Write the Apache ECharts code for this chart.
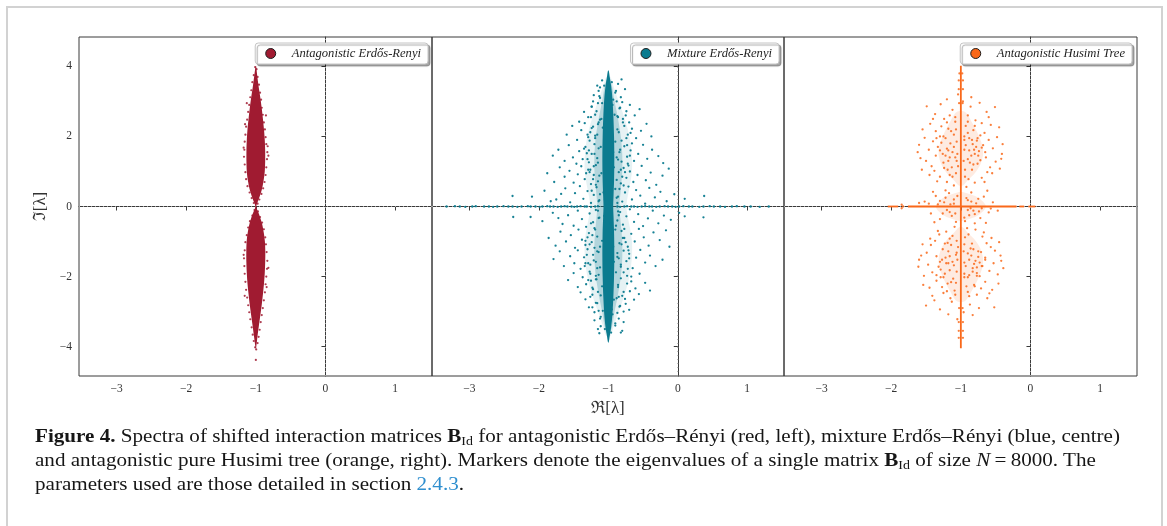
<!DOCTYPE html>
<html>
<head>
<meta charset="utf-8">
<script src="https://cdn.jsdelivr.net/npm/echarts@6/dist/echarts.min.js"></script>
<style>
  html, body { margin: 0; padding: 0; background: #fff; overflow: hidden; }
  #frame { position: absolute; left: 6px; top: 6px; width: 1157px; height: 540px;
           border: 2px solid #d2d2d2; border-bottom: none; box-sizing: border-box; }
  #chart { position: absolute; left: 0; top: 0; width: 1167px; height: 526px; }
  #caption { position: absolute; left: 35px; top: 425px; font-family: 'Liberation Serif', 'DejaVu Serif', serif;
             font-size: 18.5px; line-height: 22px; color: #161616; white-space: nowrap;
             transform-origin: 0 0; display: inline-block; }
  #caption .sub { font-size: 0.66em; position: relative; top: 0.28em; font-weight: normal; }
  #caption .ref { color: #2f8fcf; }
</style>
</head>
<body>
<div id="frame"></div>
<div id="chart"></div>
<div id="caption">
  <b>Figure 4.</b> Spectra of shifted interaction matrices <b>B</b><span class="sub">Id</span> for antagonistic Erdős–Rényi (red, left), mixture Erdős–Rényi (blue, centre)<br>
  and antagonistic pure Husimi tree (orange, right). Markers denote the eigenvalues of a single matrix <b>B</b><span class="sub">Id</span> of size <i>N</i>&#8201;=&#8201;8000. The<br>
  parameters used are those detailed in section <span class="ref">2.4.3</span>.
</div>
<script>
// ---- axis ticks and panel names ----
const xTicks = [-3, -2, -1, 0, 1];
const yTicks = [-4, -2, 0, 2, 4];
const panelNames = ['Antagonistic Erdős-Renyi', 'Mixture Erdős-Renyi', 'Antagonistic Husimi Tree'];

// ---- red panel: dense lens of eigenvalues, rows are [Im, Re left edge, Re right edge] ----
const redBand = [
  [4.0,-1.004,-0.996],[3.7,-1.025,-0.978],[3.4,-1.045,-0.958],[3.1,-1.068,-0.935],[2.8,-1.088,-0.915],
  [2.5,-1.105,-0.898],[2.2,-1.12,-0.883],[1.9,-1.13,-0.872],[1.6,-1.135,-0.866],[1.3,-1.135,-0.866],
  [1.0,-1.13,-0.872],[0.75,-1.115,-0.888],[0.5,-1.09,-0.912],[0.3,-1.06,-0.943],[0.15,-1.032,-0.97],
  [0.0,-1.008,-0.993],[-0.15,-1.033,-0.968],[-0.3,-1.062,-0.94],[-0.5,-1.092,-0.91],[-0.75,-1.117,-0.886],
  [-1.0,-1.132,-0.87],[-1.3,-1.137,-0.864],[-1.6,-1.136,-0.866],[-1.9,-1.13,-0.872],[-2.2,-1.12,-0.883],
  [-2.5,-1.105,-0.898],[-2.8,-1.088,-0.915],[-3.1,-1.068,-0.935],[-3.4,-1.047,-0.956],[-3.7,-1.027,-0.976],
  [-4.05,-1.003,-0.997]
];
// single eigenvalues around the lens edge, [Re, Im]
const redPts = [
  [-1.01,3.98],[-0.99,3.92],[-1.03,3.75],[-0.975,3.7],[-1.05,3.55],[-0.955,3.48],[-1.065,3.32],[-0.94,3.25],
  [-1.08,3.12],[-0.925,3.05],[-1.095,2.9],[-0.915,2.82],[-1.11,2.7],[-0.9,2.62],[-1.125,2.48],[-0.885,2.4],
  [-1.14,2.28],[-0.87,2.2],[-1.15,2.05],[-0.86,1.98],[-1.16,1.85],[-0.85,1.78],[-1.165,1.62],[-0.835,1.55],
  [-1.17,1.42],[-0.84,1.35],[-1.16,1.2],[-0.85,1.12],[-1.15,0.98],[-0.86,0.9],[-1.14,0.78],[-0.875,0.7],
  [-1.12,0.58],[-0.895,0.52],[-1.09,0.4],[-0.92,0.36],[-1.06,0.24],[-0.95,0.2],[-1.03,0.1],[-0.975,0.08],
  [-0.83,1.72],[-1.175,1.68],[-0.82,1.45],[-1.155,2.35],[-0.855,2.6],[-1.13,2.95],
  [-1.02,-0.1],[-0.97,-0.14],[-1.05,-0.26],[-0.94,-0.3],[-1.085,-0.42],[-0.91,-0.46],[-1.11,-0.6],[-0.885,-0.65],
  [-1.13,-0.82],[-0.865,-0.88],[-1.15,-1.02],[-0.855,-1.08],[-1.16,-1.25],[-0.845,-1.3],[-1.17,-1.48],[-0.835,-1.55],
  [-1.165,-1.7],[-0.84,-1.78],[-1.16,-1.92],[-0.85,-2.0],[-1.15,-2.15],[-0.86,-2.22],[-1.14,-2.38],[-0.87,-2.45],
  [-1.125,-2.6],[-0.885,-2.68],[-1.11,-2.82],[-0.9,-2.9],[-1.095,-3.02],[-0.915,-3.1],[-1.08,-3.22],[-0.93,-3.3],
  [-1.06,-3.45],[-0.945,-3.52],[-1.045,-3.66],[-0.96,-3.72],[-1.03,-3.84],[-0.975,-3.9],[-1.01,-4.02],[-0.995,-4.08],
  [-1.0,-4.38],[-0.82,-1.75],[-1.175,-1.38],[-0.845,-2.3],[-1.16,-2.55]
];

// ---- teal panel: dense central column and its halo ----
const tealCore = [
  [3.88,-1.005,-0.995],[3.7,-1.02,-0.98],[3.45,-1.04,-0.96],[3.1,-1.058,-0.942],[2.6,-1.072,-0.928],
  [2.0,-1.082,-0.918],[1.4,-1.086,-0.914],[0.8,-1.083,-0.917],[0.3,-1.075,-0.925],[0.0,-1.07,-0.93],
  [-0.3,-1.075,-0.925],[-0.8,-1.083,-0.917],[-1.4,-1.086,-0.914],[-2.0,-1.082,-0.918],[-2.6,-1.072,-0.928],
  [-3.1,-1.058,-0.942],[-3.45,-1.04,-0.96],[-3.7,-1.02,-0.98],[-3.88,-1.005,-0.995]
];
const tealInner = [
  [3.6,-1.03,-0.97],[3.0,-1.09,-0.91],[2.5,-1.14,-0.86],[2.0,-1.18,-0.82],[1.5,-1.2,-0.8],[1.0,-1.2,-0.8],
  [0.5,-1.18,-0.82],[0.0,-1.16,-0.84],[-0.5,-1.18,-0.82],[-1.0,-1.2,-0.8],[-1.5,-1.2,-0.8],[-2.0,-1.18,-0.82],
  [-2.5,-1.14,-0.86],[-3.0,-1.09,-0.91],[-3.6,-1.03,-0.97]
];
const tealOuter = [
  [3.7,-1.03,-0.97],[3.4,-1.08,-0.92],[3.0,-1.15,-0.85],[2.6,-1.22,-0.78],[2.2,-1.28,-0.72],[1.8,-1.32,-0.68],
  [1.4,-1.34,-0.66],[1.0,-1.34,-0.66],[0.6,-1.31,-0.69],[0.3,-1.28,-0.72],[0.0,-1.26,-0.74],[-0.3,-1.28,-0.72],
  [-0.6,-1.31,-0.69],[-1.0,-1.34,-0.66],[-1.4,-1.34,-0.66],[-1.8,-1.32,-0.68],[-2.2,-1.28,-0.72],[-2.6,-1.22,-0.78],
  [-3.0,-1.15,-0.85],[-3.4,-1.08,-0.92],[-3.7,-1.03,-0.97]
];
const tealPts = [
  [-2.38,0.3],[0.38,0.3],[-2.1,0.28],[-1.92,0.45],[-1.75,0.2],[-1.62,0.52],[-1.55,0.12],[-1.48,0.38],[-1.41,0.58],
  [-1.36,0.22],[-1.3,0.44],[-1.25,0.1],[-1.21,0.33],[-1.17,0.55],[-1.13,0.18],[-0.88,0.25],[-0.84,0.5],[-0.8,0.14],
  [-0.76,0.4],[-0.71,0.57],[-0.66,0.2],[-0.6,0.47],[-0.54,0.31],[-0.47,0.08],[-0.41,0.53],[-0.33,0.26],[-0.25,0.42],
  [-0.16,0.15],[-0.05,0.35],[0.1,0.22],[-1.68,0.36],[-1.83,0.15],[-0.95,0.42],[-1.05,0.2],
  [-1.88,0.95],[-1.78,0.7],[-1.7,1.12],[-1.63,0.85],[-1.56,1.02],[-1.5,0.68],[-1.44,0.92],[-1.39,1.15],[-1.34,0.78],
  [-1.29,1.05],[-1.25,0.64],[-1.21,0.9],[-1.18,1.18],[-1.15,0.72],[-0.85,0.98],[-0.82,0.66],[-0.78,1.1],[-0.74,0.82],
  [-0.69,1.0],[-0.64,0.7],[-0.58,0.9],[-0.52,1.16],[-0.46,0.75],[-0.39,0.97],[-0.31,0.62],[-0.22,0.88],[-0.13,1.08],
  [-1.27,0.98],[-1.13,0.88],[-0.88,0.76],[-0.71,1.17],
  [-1.8,1.45],[-1.72,1.62],[-1.63,1.3],[-1.57,1.75],[-1.51,1.4],[-1.46,1.22],[-1.42,1.58],[-1.37,1.35],[-1.33,1.7],
  [-1.28,1.26],[-1.24,1.5],[-1.2,1.78],[-1.16,1.38],[-0.84,1.55],[-0.81,1.28],[-0.77,1.72],[-0.73,1.42],[-0.68,1.6],
  [-0.63,1.3],[-0.57,1.5],[-0.5,1.76],[-0.44,1.36],[-0.37,1.62],[-0.28,1.44],[-0.21,1.24],[-1.31,1.52],[-1.14,1.66],
  [-0.86,1.34],[-0.66,1.8],
  [-1.6,2.05],[-1.52,2.3],[-1.45,1.9],[-1.39,2.18],[-1.34,2.38],[-1.29,1.98],[-1.24,2.24],[-1.19,2.02],[-1.15,2.35],
  [-0.85,2.12],[-0.81,1.88],[-0.77,2.3],[-0.72,2.05],[-0.66,2.22],[-0.6,1.95],[-0.53,2.16],[-0.45,2.36],[-0.38,2.0],
  [-1.42,2.42],[-1.26,2.12],[-0.7,2.4],
  [-1.35,2.7],[-1.29,2.55],[-1.24,2.85],[-1.19,2.62],[-1.15,2.95],[-1.12,2.48],[-0.87,2.58],[-0.83,2.82],[-0.79,2.5],
  [-0.74,2.72],[-0.69,2.9],[-0.62,2.6],[-0.55,2.78],[-1.22,3.0],[-0.8,2.98],
  [-1.21,3.18],[-1.16,3.45],[-1.12,3.1],[-1.09,3.6],[-0.9,3.25],[-0.86,3.5],[-0.82,3.12],[-0.76,3.35],[-0.81,3.63],[-1.14,3.3],
  [-2.37,-0.3],[0.37,-0.31],[-2.12,-0.3],[0.1,-0.28],[-1.95,-0.42],[-1.8,-0.18],[-1.66,-0.5],[-1.58,-0.25],[-1.5,-0.55],
  [-1.44,-0.12],[-1.38,-0.36],[-1.32,-0.58],[-1.27,-0.2],[-1.22,-0.45],[-1.18,-0.1],[-1.14,-0.33],[-0.87,-0.4],[-0.83,-0.16],
  [-0.79,-0.52],[-0.74,-0.28],[-0.69,-0.08],[-0.63,-0.44],[-0.57,-0.22],[-0.5,-0.56],[-0.43,-0.34],[-0.36,-0.12],[-0.28,-0.48],
  [-0.2,-0.26],[-0.1,-0.38],[0.02,-0.18],[-1.72,-0.33],[-0.97,-0.5],[-1.06,-0.27],
  [-1.86,-0.9],[-1.76,-1.12],[-1.69,-0.72],[-1.61,-1.0],[-1.54,-0.82],[-1.48,-1.18],[-1.43,-0.66],[-1.38,-0.95],[-1.33,-1.1],
  [-1.28,-0.76],[-1.24,-1.02],[-1.2,-0.62],[-1.16,-0.86],[-0.84,-1.05],[-0.81,-0.7],[-0.77,-0.9],[-0.72,-1.15],[-0.67,-0.78],
  [-0.62,-1.0],[-0.56,-0.64],[-0.49,-0.88],[-0.42,-1.12],[-0.35,-0.74],[-0.26,-0.96],[-0.17,-0.68],[-0.12,-1.15],[-1.3,-0.88],
  [-1.12,-1.15],[-0.9,-0.66],
  [-1.79,-1.5],[-1.7,-1.28],[-1.64,-1.7],[-1.55,-1.42],[-1.49,-1.62],[-1.44,-1.25],[-1.4,-1.78],[-1.35,-1.45],[-1.3,-1.22],
  [-1.26,-1.66],[-1.22,-1.38],[-1.18,-1.58],[-1.14,-1.3],[-0.85,-1.48],[-0.82,-1.72],[-0.78,-1.26],[-0.74,-1.56],[-0.7,-1.35],
  [-0.65,-1.76],[-0.6,-1.46],[-0.54,-1.24],[-0.47,-1.6],[-0.4,-1.4],[-0.32,-1.7],[-0.22,-1.52],[-1.33,-1.62],[-1.16,-1.76],
  [-0.87,-1.33],
  [-1.58,-2.1],[-1.5,-1.9],[-1.44,-2.3],[-1.37,-2.02],[-1.32,-2.22],[-1.27,-1.86],[-1.22,-2.36],[-1.18,-2.08],[-1.14,-1.95],
  [-0.86,-2.3],[-0.82,-2.05],[-0.78,-1.88],[-0.73,-2.2],[-0.67,-2.0],[-0.61,-2.34],[-0.55,-1.92],[-0.47,-2.18],[-0.4,-2.4],
  [-1.4,-2.45],[-1.25,-2.12],[-0.69,-2.42],
  [-1.33,-2.65],[-1.28,-2.88],[-1.23,-2.52],[-1.18,-2.75],[-1.14,-2.98],[-0.88,-2.62],[-0.84,-2.86],[-0.8,-2.55],[-0.75,-2.78],
  [-0.7,-2.95],[-0.63,-2.66],[-0.56,-2.5],[-1.2,-3.02],[-0.78,-3.0],
  [-1.2,-3.25],[-1.15,-3.5],[-1.11,-3.15],[-0.9,-3.4],[-0.85,-3.2],[-0.8,-3.55],[-0.78,-3.3],[-1.13,-3.62],[-0.82,-3.6],
  // close to the column
  [-1.12,0.35],[-0.9,0.5],[-1.18,0.62],[-0.86,0.28],[-1.22,0.78],[-0.8,0.85],[-1.1,0.95],[-0.92,1.12],[-1.26,1.05],
  [-0.76,0.98],[-1.15,1.25],[-0.88,1.4],[-1.3,1.35],[-0.72,1.22],[-1.2,1.5],[-0.83,1.62],[-1.11,1.7],[-0.9,1.85],
  [-1.27,1.88],[-0.74,1.95],[-1.16,2.05],[-0.87,2.2],[-1.22,2.28],[-0.79,2.4],[-1.1,2.5],[-0.91,2.62],[-1.17,2.72],
  [-0.84,2.8],[-1.09,2.95],[-0.93,3.05],[-1.13,3.15],[-0.89,3.3],[-1.06,3.45],[-0.95,3.55],[-1.24,0.45],[-0.78,0.6],
  [-1.32,0.95],[-0.69,1.45],[-1.35,1.65],[-0.68,2.1],[-1.3,2.05],[-0.75,2.6],[-1.25,2.55],[-1.14,0.15],[-0.87,0.1],
  [-1.19,1.95],[-0.82,1.05],[-1.14,2.4],[-0.86,2.55],[-1.21,1.15],[-0.95,0.75],[-1.07,0.4],[-0.93,1.55],[-1.08,2.25],
  [-0.94,2.9],[-1.12,3.4],[-0.88,3.0],[-1.28,1.6],[-0.73,1.75],[-1.24,2.85],
  [-1.13,-0.32],[-0.89,-0.55],[-1.19,-0.66],[-0.85,-0.25],[-1.23,-0.82],[-0.79,-0.9],[-1.09,-0.98],[-0.93,-1.15],[-1.27,-1.08],
  [-0.75,-1.02],[-1.16,-1.28],[-0.87,-1.44],[-1.31,-1.38],[-0.71,-1.25],[-1.21,-1.54],[-0.82,-1.66],[-1.12,-1.74],[-0.89,-1.88],
  [-1.26,-1.92],[-0.73,-1.98],[-1.17,-2.08],[-0.86,-2.24],[-1.23,-2.32],[-0.78,-2.44],[-1.11,-2.54],[-0.92,-2.66],[-1.16,-2.76],
  [-0.83,-2.84],[-1.08,-2.98],[-0.94,-3.08],[-1.12,-3.2],[-0.9,-3.34],[-1.05,-3.5],[-0.96,-3.6],[-1.25,-0.48],[-0.77,-0.64],
  [-1.33,-0.98],[-0.7,-1.48],[-1.34,-1.7],[-0.67,-2.14],[-1.29,-2.1],[-0.76,-2.64],[-1.26,-2.58],[-1.15,-0.12],[-0.86,-0.14],
  [-1.18,-1.98],[-0.81,-1.08],[-1.15,-2.44],[-0.85,-2.58],[-1.2,-1.18],[-0.94,-0.78],[-1.06,-0.44],[-0.92,-1.58],[-1.09,-2.28],
  [-0.95,-2.94],[-1.11,-3.42],[-0.87,-3.04],[-1.29,-1.62],[-0.72,-1.78],[-1.23,-2.88]
];
// real eigenvalues of the mixture matrix, lying on the Re axis
const tealRealPts = [
  [-3.33,0],[-3.21,0.01],[-3.14,0],[-3.06,-0.01],[-2.96,0],[-2.91,0.01],[-2.79,0],[-2.72,0],[-2.66,-0.01],[-2.6,0],
  [-2.51,0.01],[-2.44,0],[-2.38,0],[-2.31,-0.01],[-2.25,0],[-2.16,0.01],[-2.12,0],[-2.05,0],[-1.99,-0.01],[-1.95,0],
  [-1.88,0.01],[-1.84,0],[-1.79,0],[-1.73,-0.01],[-1.68,0],[-1.63,0.01],[-1.59,0],[-1.53,0],[-1.49,-0.01],[-1.45,0],
  [-1.4,0.01],[-1.34,0],[-1.31,0],[-1.25,-0.01],[-1.19,0],[-1.15,0.01],[-0.87,0],[-0.83,-0.01],[-0.77,0],[-0.73,0.01],
  [-0.67,0],[-0.63,0],[-0.58,-0.01],[-0.52,0],[-0.47,0.01],[-0.41,0],[-0.37,0],[-0.31,-0.01],[-0.26,0],[-0.19,0.01],
  [-0.14,0],[-0.08,0],[-0.03,-0.01],[0.02,0],[0.08,0.01],[0.16,0],[0.21,0],[0.31,-0.01],[0.37,0],[0.46,0.01],
  [0.52,0],[0.61,0],[0.68,-0.01],[0.78,0],[0.85,0.01],[0.96,0],[1.05,0],[1.18,-0.01],[1.31,0]
];

// ---- orange panel: two lobes, a central cross and the line of eigenvalues at Re = -1 ----
const orangeUpperCore = [[2.7,-1.06,-0.94],[2.4,-1.16,-0.84],[2.1,-1.24,-0.76],[1.8,-1.3,-0.7],[1.5,-1.32,-0.68],
  [1.2,-1.28,-0.72],[0.95,-1.2,-0.8],[0.75,-1.1,-0.9],[0.6,-1.03,-0.97]];
const orangeLowerCore = [[-0.6,-1.03,-0.97],[-0.75,-1.1,-0.9],[-0.95,-1.2,-0.8],[-1.2,-1.28,-0.72],[-1.5,-1.32,-0.68],
  [-1.8,-1.3,-0.7],[-2.1,-1.24,-0.76],[-2.4,-1.16,-0.84],[-2.7,-1.06,-0.94]];
const orangeMidCore = [[0.4,-1.05,-0.95],[0.25,-1.25,-0.75],[0.0,-1.36,-0.64],[-0.25,-1.25,-0.75],[-0.4,-1.05,-0.95]];
// continuous runs of eigenvalues, [Re1, Im1, Re2, Im2]
const orangeRuns = [[-1,4.02,-1,-4.05],[-2.05,0,-1.9,0],[-1.76,0,-0.2,0],[-0.16,0,-0.09,0],[-0.03,0,0.07,0]];
const orangePts = [
  [-1.49,2.86],[-0.51,2.84],[-1.37,2.64],[-0.63,2.7],[-1.29,2.92],[-0.73,2.96],[-1.2,3.06],[-0.85,3.12],[-1.12,2.76],
  [-0.9,2.6],[-1.24,2.5],[-0.79,2.46],[-1.55,2.2],[-0.45,2.26],[-1.44,2.36],[-0.57,2.33],[-1.36,2.15],[-0.66,2.1],
  [-1.28,2.29],[-0.7,2.38],[-1.18,2.22],[-0.82,2.18],[-1.6,1.76],[-0.4,1.78],[-1.62,1.55],[-0.41,1.5],[-1.52,1.96],
  [-0.48,1.98],[-1.46,1.62],[-0.54,1.66],[-1.4,1.86],[-0.6,1.9],[-1.36,1.45],[-0.64,1.4],[-1.33,1.7],[-0.68,1.75],
  [-1.3,2.0],[-0.72,2.03],[-1.5,1.3],[-0.5,1.28],[-1.42,1.15],[-0.58,1.12],[-1.56,1.05],[-0.44,1.08],[-1.45,0.9],
  [-0.55,0.95],[-1.3,0.85],[-0.7,0.82],[-1.2,0.7],[-0.8,0.68],[-1.1,0.6],[-0.92,0.56],[-1.38,1.02],[-0.62,0.98],
  [-1.34,0.72],[-0.66,0.7],[-1.25,1.25],[-0.76,1.22],[-1.58,1.38],[-0.42,1.36],[-1.4,2.5],[-0.6,2.55],[-1.16,2.6],
  [-0.86,2.85],[-1.04,3.2],[-0.97,3.0],[-1.08,2.42],[-0.93,2.3],
  [-1.12,1.55],[-0.88,1.6],[-1.15,1.8],[-0.85,1.45],[-1.18,1.3],[-0.84,1.9],[-1.2,1.65],[-0.8,1.5],[-1.22,1.95],
  [-0.78,1.7],[-1.13,1.12],[-0.87,1.25],[-1.1,2.05],[-0.9,2.1],[-1.08,1.4],[-0.93,1.75],[-1.07,0.95],[-0.94,1.05],
  [-1.26,1.5],[-0.74,1.58],[-1.28,1.82],[-0.72,1.32],[-1.24,1.1],[-0.76,1.95],
  [-1.05,1.5],[-0.95,1.62],[-1.06,1.85],[-0.96,1.3],[-1.04,1.15],[-0.95,2.0],[-1.07,2.2],[-0.94,0.85],[-1.18,1.6],
  [-0.83,1.78],[-1.16,1.4],[-0.82,1.2],[-1.1,1.7],[-0.88,1.95],[-1.14,2.15],[-0.9,1.35],[-1.22,1.45],[-0.77,1.88],
  [-1.19,1.05],[-0.81,1.62],[-1.12,0.85],[-0.89,0.78],[-1.25,2.0],[-0.75,1.45],[-1.3,1.6],[-0.7,1.68],[-1.08,2.55],
  [-0.9,2.42],[-1.2,2.4],[-0.8,2.3],[-1.35,1.95],[-0.65,1.55],[-1.16,0.9],[-0.84,1.05],[-1.06,1.3],[-0.95,1.9],
  [-1.52,0.14],[-0.54,0.12],[-1.43,-0.2],[-0.6,-0.17],[-1.36,0.3],[-0.67,0.28],[-1.3,-0.36],[-0.72,-0.33],[-1.24,0.12],
  [-0.78,0.09],[-1.2,-0.1],[-0.82,-0.12],[-1.17,0.38],[-0.85,0.4],[-1.13,-0.27],[-0.88,-0.25],[-1.1,0.2],[-0.9,0.18],
  [-1.07,-0.44],[-0.94,-0.42],[-1.46,0.08],[-0.57,-0.06],[-1.33,0.06],[-0.7,-0.05],[-1.26,-0.2],[-0.75,0.22],[-1.15,0.06],
  [-0.86,-0.05],[-1.6,0.1],[-0.47,-0.12],[-1.4,0.42],[-0.62,0.45],[-1.38,-0.45],[-0.64,-0.47],[-1.22,0.46],[-0.8,-0.48],
  [-1.1,0.08],[-0.9,-0.1],[-1.16,-0.16],[-0.85,0.14],[-1.22,0.25],[-0.8,-0.22],[-1.05,0.3],[-0.95,-0.32],[-1.3,0.16],
  [-0.74,-0.14],[-1.08,-0.2],[-0.92,0.24],[-1.85,0.05],[-1.85,-0.05],[-1.83,0.0],
  [-1.5,-2.83],[-0.52,-2.88],[-1.38,-2.68],[-0.62,-2.62],[-1.3,-2.94],[-0.74,-2.9],[-1.18,-3.08],[-0.83,-3.1],[-1.13,-2.72],
  [-0.88,-2.56],[-1.25,-2.47],[-0.77,-2.52],[-1.54,-2.24],[-0.46,-2.2],[-1.45,-2.32],[-0.55,-2.38],[-1.35,-2.12],[-0.65,-2.15],
  [-1.27,-2.3],[-0.71,-2.34],[-1.19,-2.2],[-0.81,-2.24],[-1.61,-1.72],[-0.39,-1.76],[-1.6,-1.52],[-0.42,-1.55],[-1.53,-1.98],
  [-0.47,-1.94],[-1.47,-1.66],[-0.53,-1.62],[-1.41,-1.88],[-0.59,-1.84],[-1.35,-1.42],[-0.65,-1.46],[-1.32,-1.72],[-0.69,-1.7],
  [-1.29,-2.02],[-0.73,-1.99],[-1.49,-1.32],[-0.51,-1.26],[-1.43,-1.1],[-0.57,-1.16],[-1.55,-1.08],[-0.45,-1.02],[-1.44,-0.92],
  [-0.56,-0.9],[-1.31,-0.8],[-0.69,-0.86],[-1.21,-0.72],[-0.79,-0.66],[-1.09,-0.58],[-0.91,-0.62],[-1.37,-0.98],[-0.63,-1.05],
  [-1.33,-0.7],[-0.67,-0.74],[-1.26,-1.22],[-0.75,-1.28],[-1.57,-1.4],[-0.43,-1.4],[-1.41,-2.55],[-0.59,-2.48],[-1.15,-2.62],
  [-0.87,-2.8],[-1.05,-3.22],[-0.96,-3.02],[-1.09,-2.4],[-0.92,-2.28],
  [-1.12,-1.58],[-0.88,-1.52],[-1.16,-1.82],[-0.85,-1.4],[-1.18,-1.28],[-0.83,-1.86],[-1.21,-1.62],[-0.79,-1.55],[-1.23,-1.92],
  [-0.77,-1.74],[-1.14,-1.1],[-0.86,-1.2],[-1.11,-2.06],[-0.9,-2.02],[-1.07,-1.38],[-0.93,-1.7],[-1.06,-0.98],[-0.95,-1.08],
  [-1.27,-1.52],[-0.73,-1.6],[-1.29,-1.8],[-0.71,-1.3],[-1.23,-1.06],[-0.77,-1.98],
  [-1.05,-1.52],[-0.95,-1.6],[-1.06,-1.86],[-0.96,-1.28],[-1.04,-1.16],[-0.95,-2.02],[-1.07,-2.18],[-0.94,-0.88],[-1.18,-1.62],
  [-0.83,-1.76],[-1.16,-1.42],[-0.82,-1.22],[-1.1,-1.68],[-0.88,-1.96],[-1.14,-2.16],[-0.9,-1.34],[-1.22,-1.46],[-0.77,-1.9],
  [-1.19,-1.04],[-0.81,-1.64],[-1.12,-0.84],[-0.89,-0.8],[-1.25,-2.02],[-0.75,-1.44],[-1.3,-1.58],[-0.7,-1.7],[-1.08,-2.52],
  [-0.9,-2.44],[-1.2,-2.42],[-0.8,-2.28],[-1.35,-1.96],[-0.65,-1.52],[-1.16,-0.92],[-0.84,-1.06],[-1.06,-1.32],[-0.95,-1.92],
  [-1.03,3.6],[-0.97,3.6],[-1.03,3.35],[-0.97,3.35],[-1.025,2.95],[-0.975,2.95],[-1.02,3.8],[-0.98,3.8],
  [-1.03,-3.3],[-0.97,-3.3],[-1.03,-3.55],[-0.97,-3.55],[-1.025,-2.9],[-0.975,-2.9],[-1.03,-3.75],[-0.97,-3.75]
];

// ---- drawing ----
const xRange = [-3.54, 1.53];
const yRange = [-4.84, 4.84];
const colors = ['#a01b31', '#0b7b8f', '#f9681a'];
const serif = "'Liberation Serif', 'DejaVu Serif', serif";
const minus = v => String(v).replace('-', '\u2212');

// caption: stretch the widest line to the figure width
(function fitCaption() {
  const cap = document.getElementById('caption');
  const w = cap.getBoundingClientRect().width;
  cap.style.transform = 'scaleX(' + (1085 / w).toFixed(4) + ')';
})();

const chart = echarts.init(document.getElementById('chart'), null, { renderer: 'canvas' });

const gridBoxes = [
  { left: 79, width: 353 },
  { left: 432, width: 352 },
  { left: 784, width: 353 }
];

function bandSeries(band, color, opacity, idx, z) {
  return {
    type: 'custom', xAxisIndex: idx, yAxisIndex: idx, silent: true, z, clip: true,
    data: [[band[0][1], band[0][0]]],
    renderItem(params, api) {
      const right = band.map(r => api.coord([r[2], r[0]]));
      const left = band.slice().reverse().map(r => api.coord([r[1], r[0]]));
      return { type: 'polygon', shape: { points: right.concat(left), smooth: 0.3 },
               style: { fill: color, opacity } };
    }
  };
}

function segmentSeries(segs, style, idx, z) {
  return {
    type: 'custom', xAxisIndex: idx, yAxisIndex: idx, silent: true, z, clip: true,
    data: segs, encode: { x: [0, 2], y: [1, 3] },
    renderItem(params, api) {
      const a = api.coord([api.value(0), api.value(1)]);
      const b = api.coord([api.value(2), api.value(3)]);
      return { type: 'line', shape: { x1: a[0], y1: a[1], x2: b[0], y2: b[1] }, style };
    }
  };
}

function dotSeries(name, pts, color, idx, size, opacity) {
  return { type: 'scatter', name, xAxisIndex: idx, yAxisIndex: idx, data: pts, symbol: 'circle',
           symbolSize: size, itemStyle: { color, opacity }, silent: true, z: 5 };
}

// dotted guides through the origin
function guideSeries(pts, idx) {
  return { type: 'line', xAxisIndex: idx, yAxisIndex: idx, data: pts, symbol: 'none', silent: true, z: 1,
           lineStyle: { color: '#a6a6a6', width: 1, type: [1, 3] } };
}

const series = [];
for (let i = 0; i < 3; i++) {
  series.push(guideSeries([[0, yRange[0]], [0, yRange[1]]], i));
  series.push(guideSeries([[xRange[0], 0], [xRange[1], 0]], i));
}
// red
series.push(bandSeries(redBand, colors[0], 1, 0, 3));
series.push(dotSeries(panelNames[0], redPts, colors[0], 0, 2.2, 0.85));
// teal
series.push(bandSeries(tealOuter, colors[1], 0.1, 1, 2));
series.push(bandSeries(tealInner, colors[1], 0.24, 1, 2));
series.push(bandSeries(tealCore, colors[1], 1, 1, 3));
series.push(dotSeries(panelNames[1], tealPts, colors[1], 1, 2.3, 0.95));
series.push(dotSeries('', tealRealPts, colors[1], 1, 2.4, 0.95));
// orange
series.push(bandSeries(orangeUpperCore, colors[2], 0.13, 2, 2));
series.push(bandSeries(orangeLowerCore, colors[2], 0.13, 2, 2));
series.push(bandSeries(orangeMidCore, colors[2], 0.13, 2, 2));
series.push(dotSeries(panelNames[2], orangePts, colors[2], 2, 2.3, 0.85));
series.push(segmentSeries(orangeRuns, { stroke: colors[2], lineWidth: 1.8 }, 2, 4));

const xAxes = gridBoxes.map((g, i) => ({
  gridIndex: i, type: 'value', min: xRange[0], max: xRange[1],
  axisLine: { show: true, lineStyle: { color: '#3a3a3a', width: 1 } },
  axisTick: { show: true, length: 4, customValues: xTicks, lineStyle: { color: '#3a3a3a' } },
  axisLabel: { show: true, customValues: xTicks, formatter: minus, margin: 7,
               color: '#333', fontFamily: serif, fontSize: 11.5 },
  splitLine: { show: false },
  name: i === 1 ? 'ℜ[λ]' : '', nameLocation: 'middle', nameGap: 23,
  nameTextStyle: { fontFamily: serif, fontSize: 17, color: '#333' }
}));

const yAxes = gridBoxes.map((g, i) => ({
  gridIndex: i, type: 'value', min: yRange[0], max: yRange[1],
  axisLine: { show: true, lineStyle: { color: '#3a3a3a', width: 1 } },
  axisTick: { show: true, length: 4, customValues: yTicks, lineStyle: { color: '#3a3a3a' } },
  axisLabel: { show: i === 0, customValues: yTicks, formatter: minus, margin: 7,
               color: '#333', fontFamily: serif, fontSize: 11.5 },
  splitLine: { show: false },
  name: i === 0 ? 'ℑ[λ]' : '', nameLocation: 'middle', nameGap: 30, nameRotate: 90,
  nameTextStyle: { fontFamily: serif, fontSize: 17, color: '#333' }
}));

const legendRights = [739, 388, 35];
const legends = panelNames.map((name, i) => ({
  data: [{ name, icon: 'circle' }], right: legendRights[i], top: 43,
  itemWidth: 10, itemHeight: 10, padding: [4, 7, 4, 10],
  backgroundColor: '#fff', borderColor: '#c4c4c4', borderWidth: 1, borderRadius: 3,
  shadowColor: 'rgba(0,0,0,0.35)', shadowBlur: 1, shadowOffsetX: 2, shadowOffsetY: 2,
  itemStyle: { borderColor: '#1e1e1e', borderWidth: 1, opacity: 1 },
  textStyle: { fontFamily: serif, fontStyle: 'italic', fontSize: 12.6, color: '#1e1e1e', padding: [0, 0, 0, 11] },
  selectedMode: false
}));

chart.setOption({
  animation: false,
  backgroundColor: 'transparent',
  grid: gridBoxes.map(g => ({ left: g.left, width: g.width, top: 37, height: 339,
                             show: true, borderColor: '#3a3a3a', borderWidth: 1, backgroundColor: 'transparent' })),
  xAxis: xAxes,
  yAxis: yAxes,
  legend: legends,
  series
});
</script>
</body>
</html>
